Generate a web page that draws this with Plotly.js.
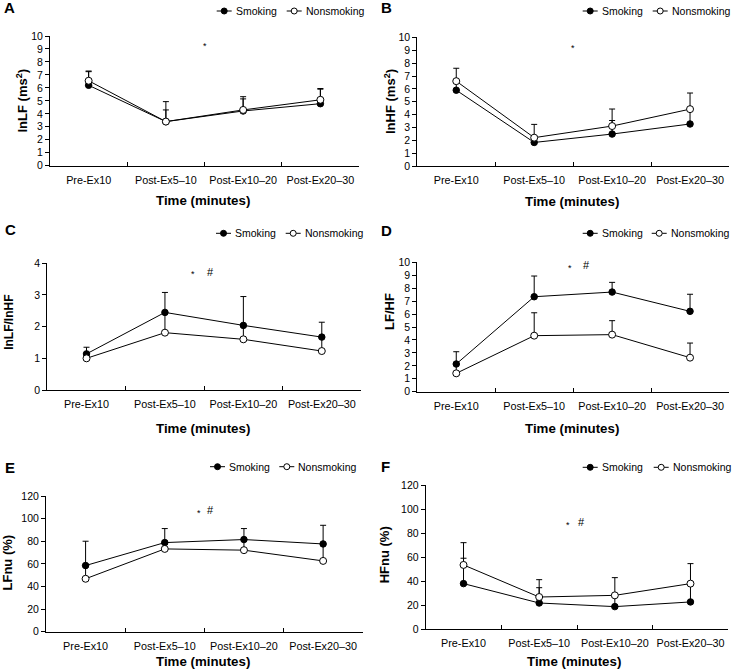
<!DOCTYPE html>
<html>
<head>
<meta charset="utf-8">
<script src="https://cdn.plot.ly/plotly-3.0.1.min.js"></script>
<style>html,body{margin:0;padding:0;background:#fff;}#chart{width:732px;height:670px;}</style>
</head>
<body>
<div id="chart"></div>
<script>
// ---------------- DATA ----------------
const categories = ['Pre-Ex10', 'Post-Ex5–10', 'Post-Ex10–20', 'Post-Ex20–30'];
const seriesNames = ['Smoking', 'Nonsmoking'];

// A: lnLF (ms²)
const smokingLnLF = [6.2, 3.4, 4.22, 4.78];
const smokingLnLFErr = [1.05, 0.9, 0.93, 1.12];
const nonsmokingLnLF = [6.55, 3.4, 4.3, 5.08];
const nonsmokingLnLFErr = [0.75, 1.54, 1.02, 0.87];

// B: lnHF (ms²)
const smokingLnHF = [5.9, 1.85, 2.5, 3.28];
const smokingLnHFErr = [0.6, 0.3, 1.05, 1.0];
const nonsmokingLnHF = [6.6, 2.22, 3.12, 4.43];
const nonsmokingLnHFErr = [1.0, 1.03, 1.32, 1.25];

// C: lnLF/lnHF
const smokingLnRatio = [1.14, 2.45, 2.04, 1.67];
const smokingLnRatioErr = [0.21, 0.63, 0.91, 0.47];
const nonsmokingLnRatio = [1.0, 1.81, 1.6, 1.23];
const nonsmokingLnRatioErr = [0.12, 0.62, 0.42, 0.42];

// D: LF/HF
const smokingLFHF = [2.14, 7.34, 7.7, 6.21];
const smokingLFHFErr = [0.95, 1.6, 0.75, 1.32];
const nonsmokingLFHF = [1.42, 4.33, 4.41, 2.63];
const nonsmokingLFHFErr = [0.7, 1.77, 1.08, 1.13];

// E: LFnu (%)
const smokingLFnu = [58.5, 78.8, 81.5, 77.6];
const smokingLFnuErr = [21.5, 12.4, 9.7, 16.5];
const nonsmokingLFnu = [46.8, 73.2, 72.1, 62.6];
const nonsmokingLFnuErr = [11.5, 5.5, 9.3, 14.8];

// F: HFnu (%)
const smokingHFnu = [37.9, 21.7, 18.7, 22.6];
const smokingHFnuErr = [21.2, 12.8, 9.2, 15.2];
const nonsmokingHFnu = [53.5, 26.7, 28.1, 37.9];
const nonsmokingHFnuErr = [18.6, 14.5, 14.8, 16.7];

const panelLetters = ['A', 'B', 'C', 'D', 'E', 'F'];
const yTitles = ['lnLF (ms<sup>2</sup>)', 'lnHF (ms<sup>2</sup>)', 'lnLF/lnHF', 'LF/HF', 'LFnu (%)', 'HFnu (%)'];
const xTitle = 'Time (minutes)';
const yMax = [10, 10, 4, 10, 120, 120];
const yDtick = [1, 1, 1, 1, 20, 20];
const sigMarks = [['*'], ['*'], ['*', '#'], ['*', '#'], ['*', '#'], ['*', '#']];

const smokingSeries = [smokingLnLF, smokingLnHF, smokingLnRatio, smokingLFHF, smokingLFnu, smokingHFnu];
const smokingErrors = [smokingLnLFErr, smokingLnHFErr, smokingLnRatioErr, smokingLFHFErr, smokingLFnuErr, smokingHFnuErr];
const nonsmokingSeries = [nonsmokingLnLF, nonsmokingLnHF, nonsmokingLnRatio, nonsmokingLFHF, nonsmokingLFnu, nonsmokingHFnu];
const nonsmokingErrors = [nonsmokingLnLFErr, nonsmokingLnHFErr, nonsmokingLnRatioErr, nonsmokingLFHFErr, nonsmokingLFnuErr, nonsmokingHFnuErr];

// ---------------- LAYOUT GEOMETRY (px) ----------------
const W = 732, H = 670;
const geom = [
  {plot: [50, 359, 36, 165.7],    letter: [2, 7],     legend: [216.7, 286.7, 11],   marks: [[205, 46]],                 xt: [203.3, 200.7], yt: [21.7, 100.8]},
  {plot: [417.3, 729, 37.3, 166.3], letter: [379, 7],  legend: [582.7, 652.7, 11],   marks: [[572.7, 47.5]],             xt: [571.8, 201.7], yt: [389.3, 101.7]},
  {plot: [47.3, 361, 263.3, 390], letter: [3, 229],   legend: [216, 285.7, 233.3],  marks: [[193.3, 274], [210, 271.7]], xt: [203.3, 428.3], yt: [8.3, 322.5]},
  {plot: [417.3, 729, 262.3, 391.7], letter: [379, 231], legend: [582.7, 651.7, 233.3], marks: [[570, 268], [586.7, 265]], xt: [571.8, 428.3], yt: [389.3, 311.7]},
  {plot: [46, 362.7, 496, 631.7], letter: [3, 467],   legend: [210, 279.3, 466.7],  marks: [[199, 513], [210.7, 510]],   xt: [203.3, 661.7], yt: [7, 562.5]},
  {plot: [425.7, 728.3, 485.3, 629], letter: [379, 466], legend: [582.7, 653.7, 467.3], marks: [[567.7, 525], [581, 522]], xt: [574.3, 661.7], yt: [384.3, 555]}
];
const px = v => v / W;
const py = v => 1 - v / H;

const FONT = 'Liberation Sans, Arial, Helvetica, sans-serif';
const traces = [];
const annotations = [];
const shapes = [];
const layout = {
  width: W, height: H,
  margin: {l: 0, r: 0, t: 0, b: 0},
  paper_bgcolor: '#fff', plot_bgcolor: '#fff',
  showlegend: false,
  font: {family: FONT, color: '#000', size: 11}
};

for (let i = 0; i < 6; i++) {
  const g = geom[i];
  const sfx = i === 0 ? '' : String(i + 1);
  const xa = 'x' + sfx, ya = 'y' + sfx;
  const common = {
    x: categories, xaxis: xa, yaxis: ya, type: 'scatter', mode: 'lines+markers',
    line: {color: '#000', width: 1}, cliponaxis: false
  };
  traces.push(Object.assign({}, common, {
    name: seriesNames[0], y: smokingSeries[i],
    marker: {symbol: 'circle', size: 6.5, color: '#000', line: {color: '#000', width: 1}},
    error_y: {type: 'data', symmetric: false, array: smokingErrors[i], arrayminus: [0, 0, 0, 0], color: '#000', thickness: 1, width: 3}
  }));
  traces.push(Object.assign({}, common, {
    name: seriesNames[1], y: nonsmokingSeries[i],
    marker: {symbol: 'circle', size: 7, color: '#fff', line: {color: '#000', width: 1}},
    error_y: {type: 'data', symmetric: false, array: nonsmokingErrors[i], arrayminus: [0, 0, 0, 0], color: '#000', thickness: 1, width: 3}
  }));

  const [xl, xr, yt, yb] = g.plot;
  layout['xaxis' + sfx] = {
    domain: [px(xl), px(xr)], anchor: ya, type: 'category',
    range: [-0.5, 3.5], fixedrange: true,
    showline: true, linecolor: '#000', linewidth: 1,
    ticks: 'inside', ticklen: 4, tickcolor: '#000', tickson: 'boundaries',
    showgrid: false, zeroline: false, tickangle: 0,
    tickfont: {family: FONT, size: 10.8, color: '#000'},
    ticklabelstandoff: 4
  };
  layout['yaxis' + sfx] = {
    domain: [py(yb), py(yt)], anchor: xa,
    range: [0, yMax[i]], dtick: yDtick[i], tick0: 0, fixedrange: true,
    showline: true, linecolor: '#000', linewidth: 1,
    ticks: 'outside', ticklen: 4, tickcolor: '#000',
    showgrid: false, zeroline: false,
    tickfont: {family: FONT, size: 10.5, color: '#000'}
  };

  // panel letter
  annotations.push({xref: 'paper', yref: 'paper', x: px(g.letter[0]), y: py(g.letter[1]), xanchor: 'left', yanchor: 'middle',
    text: '<b>' + panelLetters[i] + '</b>', showarrow: false, font: {family: FONT, size: 15, color: '#000'}});
  // axis titles
  annotations.push({xref: 'paper', yref: 'paper', x: px(g.xt[0]), y: py(g.xt[1]), xanchor: 'center', yanchor: 'middle',
    text: '<b>' + xTitle + '</b>', showarrow: false, font: {family: FONT, size: 13.3, color: '#000'}});
  annotations.push({xref: 'paper', yref: 'paper', x: px(g.yt[0]), y: py(g.yt[1]), xanchor: 'center', yanchor: 'middle',
    text: '<b>' + yTitles[i] + '</b>', textangle: -90, showarrow: false, font: {family: FONT, size: i === 2 ? 12 : 13, color: '#000'}});
  // significance marks
  sigMarks[i].forEach((m, k) => {
    annotations.push({xref: 'paper', yref: 'paper', x: px(g.marks[k][0]), y: py(g.marks[k][1]), xanchor: 'center', yanchor: 'middle',
      text: m, showarrow: false, font: {family: FONT, size: m === '*' ? 9 : 11, color: '#000'}});
  });
  // legend (line + marker + text)
  const ly = g.legend[2];
  [g.legend[0], g.legend[1]].forEach((s, k) => {
    shapes.push({type: 'line', xref: 'paper', yref: 'paper', x0: px(s), x1: px(s + 15), y0: py(ly), y1: py(ly), line: {color: '#000', width: 1}});
    shapes.push({type: 'circle', xref: 'paper', yref: 'paper', x0: px(s + 7.5 - 3), x1: px(s + 7.5 + 3), y0: py(ly + 3), y1: py(ly - 3),
      fillcolor: k === 0 ? '#000' : '#fff', line: {color: '#000', width: 1}});
    annotations.push({xref: 'paper', yref: 'paper', x: px(s + 17), y: py(ly), xanchor: 'left', yanchor: 'middle',
      text: seriesNames[k], showarrow: false, font: {family: FONT, size: 10.5, color: '#000'}});
  });
}
layout.annotations = annotations;
layout.shapes = shapes;

Plotly.newPlot('chart', traces, layout, {staticPlot: true, displayModeBar: false});
</script>
</body>
</html>
